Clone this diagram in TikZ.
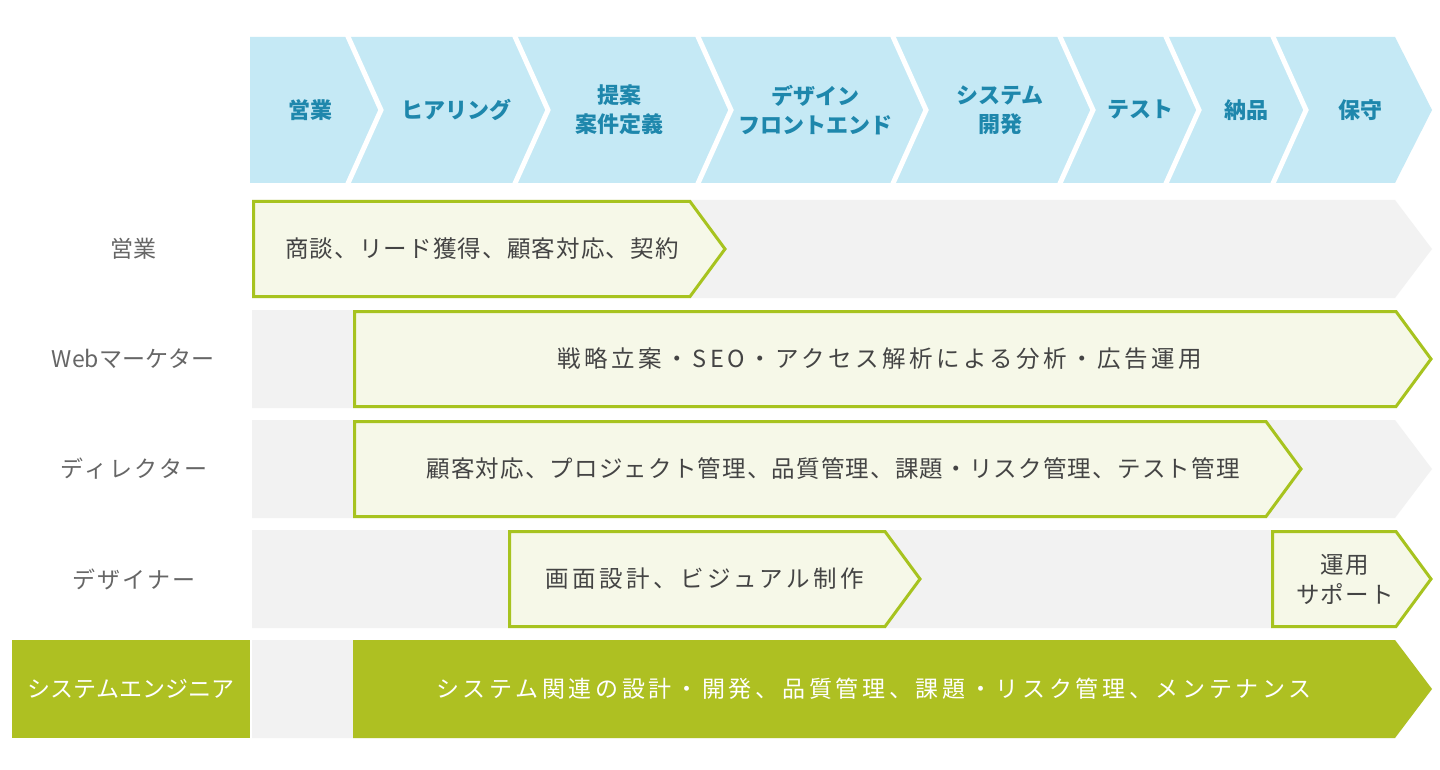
\documentclass[tikz,border=0pt]{standalone}
\usepackage{fontspec}
\setmainfont{Noto Sans CJK JP}
\definecolor{hdrfill}{HTML}{C5E9F5}
\definecolor{hdrtext}{HTML}{1E87AC}
\definecolor{bandgray}{HTML}{F2F2F2}
\definecolor{boxfill}{HTML}{F6F8E8}
\definecolor{boxline}{HTML}{A7C31F}
\definecolor{sefill}{HTML}{AEC022}
\definecolor{bodytext}{HTML}{444444}
\definecolor{labeltext}{HTML}{666666}
% chevron: options, x-left, x-right, y-top, y-bottom, tip depth
\newcommand\chevpath[6]{\path[#1] (#2,#4) -- (#3,#4) -- ({#3+#6},{(#4+#5)/2}) -- (#3,#5) -- (#2,#5) -- cycle;}
\tikzset{
  hdr/.style={text=hdrtext, font=\bfseries\fontsize{22}{29}\selectfont, align=center, inner sep=0pt},
  bodytxt/.style={text=bodytext, font=\fontsize{23.5}{30}\selectfont\addfontfeatures{LetterSpace=5}, align=center, inner sep=0pt},
  widetxt/.style={text=bodytext, font=\fontsize{23.5}{30}\selectfont\addfontfeatures{LetterSpace=15}, align=center, inner sep=0pt},
  lbltxt/.style={text=labeltext, font=\fontsize{23}{29}\selectfont, inner sep=0pt},
  lblwide/.style={text=labeltext, font=\fontsize{23}{29}\selectfont\addfontfeatures{LetterSpace=10}, inner sep=0pt},
  whitetxt/.style={text=white, font=\fontsize{23}{29}\selectfont, inner sep=0pt},
  whitewide/.style={text=white, font=\fontsize{23}{29}\selectfont\addfontfeatures{LetterSpace=16}, inner sep=0pt},
  band/.style={fill=bandgray},
  taskbox/.style={fill=boxfill, draw=boxline, line width=3pt, line join=miter},
  sebox/.style={fill=sefill},
  sep/.style={draw=white, line width=5pt, line join=miter}
}
\begin{document}
\begin{tikzpicture}[x=1pt,y=-1pt]
\useasboundingbox[fill=white] (0,0) rectangle (1440,770);

% header band
\chevpath{fill=hdrfill}{250}{1395}{37}{183}{37}
\foreach \s in {345,512,695,890,1057,1163,1270}{
  \draw[sep] (\s,30) -- ({\s+36},110) -- (\s,190);
}
\node[hdr] (h1) at (310,110) {営業};
\node[hdr] (h2) at (456,110) {ヒアリング};
\node[hdr] (h3) at (619,110) {提案\\案件定義};
\node[hdr] (h4) at (815,110) {デザイン\\フロントエンド};
\node[hdr] (h5) at (1000,110) {システム\\開発};
\node[hdr] (h6) at (1140,110) {テスト};
\node[hdr] (h7) at (1246,110) {納品};
\node[hdr] (h8) at (1360,110) {保守};

% gray bands
\chevpath{band}{252}{1395}{200}{298}{37}
\chevpath{band}{252}{1395}{310}{408}{37}
\chevpath{band}{252}{1395}{420}{518}{37}
\chevpath{band}{252}{1395}{530}{628}{37}
\chevpath{band}{252}{1395}{640}{738}{37}

% task boxes
\chevpath{taskbox}{253.5}{690}{201.5}{296.5}{35}
\chevpath{taskbox}{354.5}{1396}{311.5}{406.5}{35}
\chevpath{taskbox}{354.5}{1266}{421.5}{516.5}{35}
\chevpath{taskbox}{509.5}{885}{531.5}{626.5}{35}
\chevpath{taskbox}{1272.5}{1396}{531.5}{626.5}{35}
\chevpath{sebox}{353}{1395}{640}{738}{37}
\fill[sefill] (12,640) rectangle (250,738);

% row labels
\node[lbltxt] (l1) at (133,249) {営業};
\node[lbltxt] (l2) at (133,359) {Webマーケター};
\node[lblwide] (l3) at (134,469) {ディレクター};
\node[lblwide] (l4) at (134,579) {デザイナー};
\node[whitetxt] (l5) at (131,689) {システムエンジニア};

% task texts
\node[bodytxt] (t1) at (482,249) {商談、リード獲得、顧客対応、契約};
\node[widetxt] (t2) at (880,359) {戦略立案・SEO・アクセス解析による分析・広告運用};
\node[bodytxt] (t3) at (833,469) {顧客対応、プロジェクト管理、品質管理、課題・リスク管理、テスト管理};
\node[widetxt] (t4) at (705,579) {画面設計、ビジュアル制作};
\node[bodytxt] (t5) at (1345,579) {運用\\サポート};
\node[whitewide] (t6) at (874,689) {システム関連の設計・開発、品質管理、課題・リスク管理、メンテナンス};
\end{tikzpicture}
\end{document}
